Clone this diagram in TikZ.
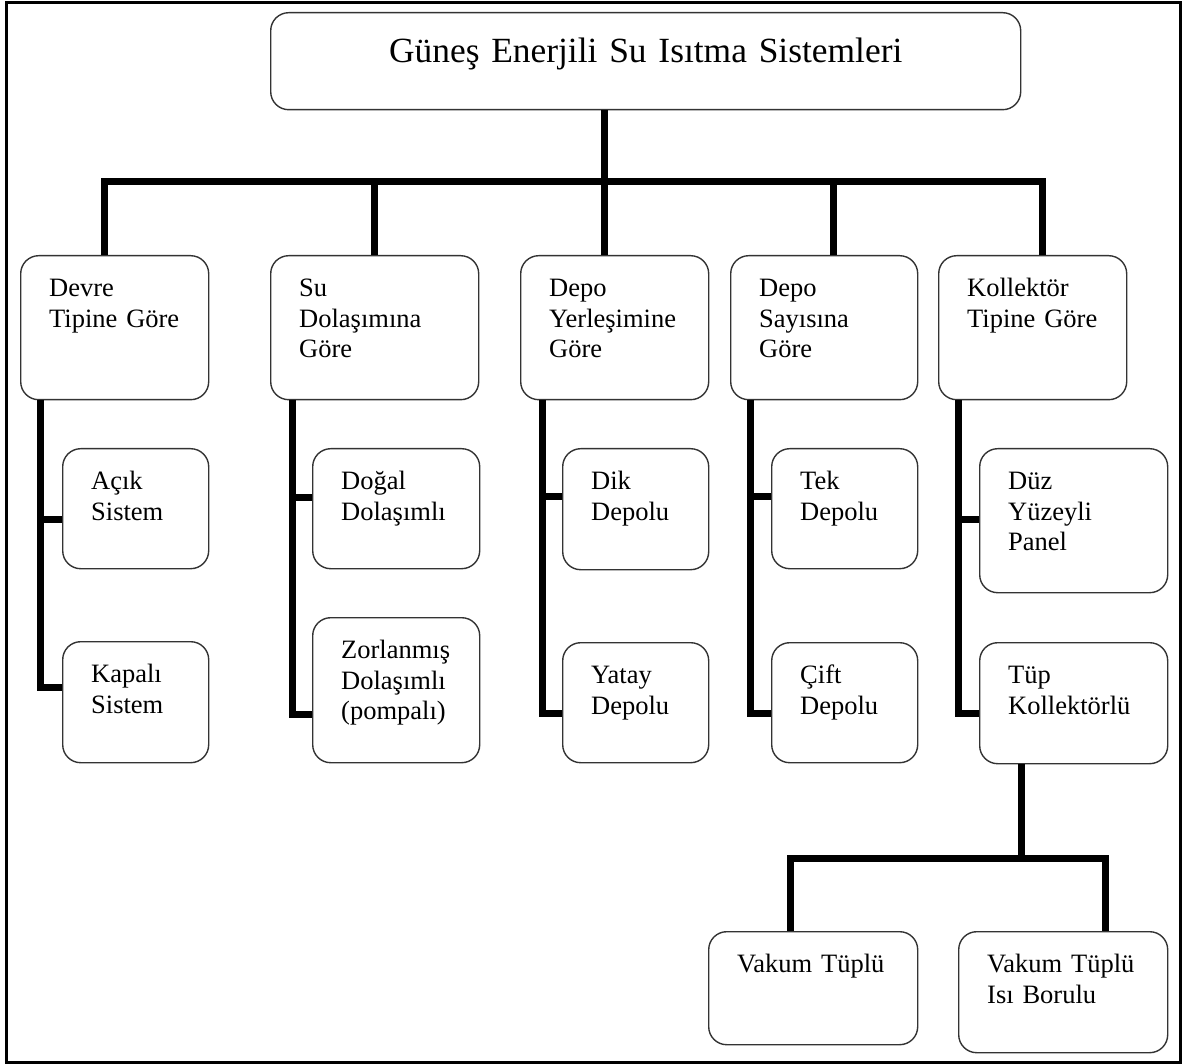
\documentclass[tikz,border=0pt]{standalone}
\usepackage{fontspec}
\setmainfont{Liberation Serif}
\tikzset{>=latex}
\newcommand{\boxfont}{\fontsize{26.5pt}{30.5pt}\selectfont}
\newcommand{\headfont}{\fontsize{35.4pt}{40pt}\selectfont}

\begin{document}
\begin{tikzpicture}[x=1pt,y=-1pt,
  box/.style 2 args={draw=black!80,line width=1.4pt,rounded corners=18pt,anchor=north west,
    align=left,inner xsep=28.5pt,inner ysep=0pt,text width=#1-57pt,
    text height=41pt,text depth=#2-41pt,font=\boxfont},
  conn/.style={line width=7pt}]
\useasboundingbox (0,0) rectangle (1184,1064);
\draw[line width=3pt] (6,3) rectangle (1180,1062);
% title
\node[draw=black!80,line width=1.4pt,rounded corners=18pt,anchor=north west,align=center,
  inner xsep=10pt,inner ysep=0pt,text width=730pt,text height=50pt,text depth=47pt,
  font=\headfont] (title) at (270,12) {Güneş Enerjili Su Isıtma Sistemleri};
% first level
\node[box={188pt}{144pt}] (b1) at (20,255) {Devre\\Tipine~Göre};
\node[box={208pt}{144pt}] (b2) at (270,255) {Su\\Dolaşımına\\Göre};
\node[box={188pt}{144pt}] (b3) at (520,255) {Depo\\Yerleşimine\\Göre};
\node[box={187pt}{144pt}] (b4) at (730,255) {Depo\\Sayısına\\Göre};
\node[box={188pt}{144pt}] (b5) at (938,255) {Kollektör\\Tipine~Göre};
% second level
\node[box={146pt}{120pt}] (acik) at (62,448) {Açık\\Sistem};
\node[box={146pt}{121pt}] (kapali) at (62,641) {Kapalı\\Sistem};
\node[box={167pt}{120pt}] (dogal) at (312,448) {Doğal\\Dolaşımlı};
\node[box={167pt}{145pt}] (zorla) at (312,617) {Zorlanmış\\Dolaşımlı\\(pompalı)};
\node[box={146pt}{121pt}] (dik) at (562,448) {Dik\\Depolu};
\node[box={146pt}{120pt}] (yatay) at (562,642) {Yatay\\Depolu};
\node[box={146pt}{120pt}] (tek) at (771,448) {Tek\\Depolu};
\node[box={146pt}{120pt}] (cift) at (771,642) {Çift\\Depolu};
\node[box={188pt}{144pt}] (duz) at (979,448) {Düz\\Yüzeyli\\Panel};
\node[box={188pt}{121pt}] (tup) at (979,642) {Tüp\\Kollektörlü};
% tube collectors
\node[box={209pt}{113pt}] (vt) at (708,931) {Vakum~Tüplü};
\node[box={209pt}{121pt}] (vtib) at (958,931) {Vakum~Tüplü\\Isı Borulu};
% top bus
\coordinate (bus) at (604,181.5);
\draw[conn] (title.south -| bus) -- (b3.north -| bus);
\draw[conn] ([xshift=-10.5pt]b1.north) |- (bus) -| ([xshift=10pt]b5.north);
\draw[conn] (b2.north) |- (bus);
\draw[conn] ([xshift=9.5pt]b4.north) |- (bus);
% columns
\draw[conn] ([xshift=20pt]b1.south west) |- ([yshift=14.5pt]kapali.west);
\draw[conn] ([yshift=-11pt]acik.west) -| ([xshift=20pt]b1.south west);
\draw[conn] ([xshift=22pt]b2.south west) |- ([yshift=-24.5pt]zorla.west);
\draw[conn] ([yshift=11pt]dogal.west) -| ([xshift=22pt]b2.south west);
\draw[conn] ([xshift=22pt]b3.south west) |- ([yshift=-11pt]yatay.west);
\draw[conn] ([yshift=12.5pt]dik.west) -| ([xshift=22pt]b3.south west);
\draw[conn] ([xshift=20pt]b4.south west) |- ([yshift=-11pt]cift.west);
\draw[conn] ([yshift=12pt]tek.west) -| ([xshift=20pt]b4.south west);
\draw[conn] ([xshift=20pt]b5.south west) |- ([yshift=-10.5pt]tup.west);
\draw[conn] ([yshift=1pt]duz.west) -| ([xshift=20pt]b5.south west);
% lower bus
\coordinate (split) at (1021,858.5);
\draw[conn] (tup.south -| split) -- (split);
\draw[conn] ([xshift=-22.5pt]vt.north) |- (split) -| ([xshift=42.5pt]vtib.north);
\end{tikzpicture}
\end{document}
